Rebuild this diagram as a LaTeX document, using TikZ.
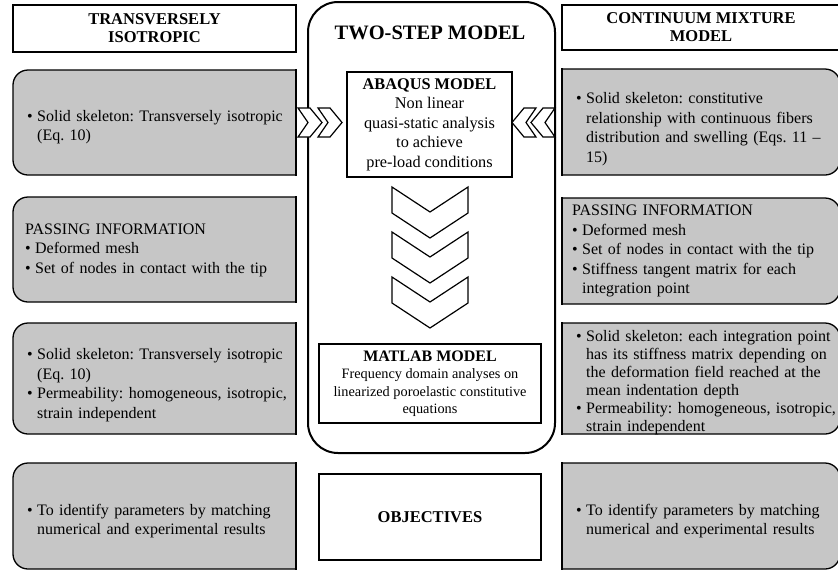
\documentclass[tikz,border=0pt]{standalone}
\usepackage{fontspec}
\setmainfont{Liberation Serif}
\usetikzlibrary{positioning}
\definecolor{boxgrey}{RGB}{198,198,198}
\tikzset{
  greybox/.style={draw=black, fill=boxgrey, line width=1.3pt},
  headbox/.style={draw=black, line width=2pt, align=center, inner sep=0pt,
    font=\bfseries\fontsize{16.5}{18}\selectfont},
  listtext/.style={text width=#1, align=left, inner sep=0pt, anchor=west,
    font=\fontsize{16}{19.5}\selectfont},
  chev/.style={draw=black, fill=white, line width=1.2pt, line join=miter},
}
\frenchspacing
\newcommand{\bitem}{\par\hangindent=10pt\hangafter=1\noindent\makebox[10pt][l]{\textbullet}}
% left box: rounded on the left side (top y, bottom y)
\newcommand{\leftbox}[2]{%
  \filldraw[greybox, rounded corners=15pt] (296,#1) -- (13,#1) -- (13,#2) -- (296,#2);
  \draw[greybox, line cap=rect] (296,#1) -- (296,#2);}
% right box: rounded on the right side (top y, bottom y)
\newcommand{\rightbox}[2]{%
  \filldraw[greybox, rounded corners=15pt] (562,#1) -- (840,#1) -- (840,#2) -- (562,#2);
  \draw[greybox, line cap=rect] (562,#1) -- (562,#2);}
\begin{document}
\begin{tikzpicture}[x=1pt,y=-1pt]
    \useasboundingbox (0,0) rectangle (838,571);

    % headers
    \node[headbox, minimum width=283, minimum height=47] (tihead) at (154.5,28.5) {TRANSVERSELY\\ISOTROPIC};
    \node[headbox, minimum width=278, minimum height=45] (cmhead) at (701,27.5) {CONTINUUM MIXTURE\\MODEL};

    % left column
    \leftbox{70}{175}
    \node[listtext=268] (tiskel) at (27,123) {\bitem Solid skeleton: Transversely isotropic\newline(Eq. 10)\par};
    \leftbox{197}{302}
    \node[listtext=268] (tipass) at (25,250) {\noindent PASSING INFORMATION
      \bitem Deformed mesh
      \bitem Set of nodes in contact with the tip\par};
    \leftbox{323}{434}
    \node[listtext=268] (tiperm) at (27,381) {\bitem Solid skeleton: Transversely isotropic\newline(Eq. 10)
      \bitem Permeability: homogeneous, isotropic,\newline strain independent\par};
    \leftbox{463}{569}
    \node[listtext=268] (tiobj) at (27,517) {\bitem To identify parameters by matching\newline numerical and experimental results\par};

    % right column
    \rightbox{69}{175}
    \node[listtext=262] (cmskel) at (576,125) {\bitem Solid skeleton: constitutive\newline relationship with continuous fibers\newline distribution and swelling (Eqs. 11 --\newline 15)\par};
    \rightbox{198}{304}
    \node[listtext=262] (cmpass) at (572,251) {\noindent PASSING INFORMATION
      \bitem Deformed mesh
      \bitem Set of nodes in contact with the tip
      \bitem Stiffness tangent matrix for each\newline integration point\par};
    \rightbox{323}{434}
    \node[listtext=262, font=\fontsize{16}{18}\selectfont] (cmperm) at (576,379) {\bitem Solid skeleton: each integration point\newline has its stiffness matrix depending on\newline the deformation field reached at the\newline mean indentation depth
      \bitem Permeability: homogeneous, isotropic,\newline strain independent\par};
    \rightbox{463}{569}
    \node[listtext=262] (cmobj) at (576,517) {\bitem To identify parameters by matching\newline numerical and experimental results\par};

    % two-step model
    \node[draw, line width=2pt, rounded corners=30pt, minimum width=247, minimum height=451] (twostep) at (431.5,227.5) {};
    \node[font=\bfseries\fontsize{20.5}{22}\selectfont] (twotitle) at (430,33) {TWO-STEP MODEL};

    \node[headbox, font=\fontsize{16.3}{19.5}\selectfont, minimum width=165, minimum height=105] (abaqus) at (429.5,124.5)
      {\textbf{ABAQUS MODEL}\\Non linear\\quasi-static analysis\\to achieve\\pre-load conditions};

    \node[headbox, font=\fontsize{14.3}{17.5}\selectfont, minimum width=222, minimum height=79] (matlab) at (430,383.5)
      {{\bfseries\fontsize{16}{17}\selectfont MATLAB MODEL}\\Frequency domain analyses on\\linearized poroelastic constitutive\\equations};

    \node[headbox, minimum width=222, minimum height=86] (objectives) at (430,517) {OBJECTIVES};

    % chevrons into the abaqus model
    \foreach \b in {298,318}
      \draw[chev] (\b,108) -- (\b+12,108) -- (\b+24,122.5) -- (\b+12,137) -- (\b,137) -- (\b+10,122.5) -- cycle;
    \foreach \t in {512,531}
      \draw[chev] (\t,122.5) -- (\t+12,108) -- (\t+24,108) -- (\t+14,122.5) -- (\t+24,137) -- (\t+12,137) -- cycle;

    % chevrons down to the matlab model
    \foreach \t in {187,232,277}
      \draw[chev] (392,\t) -- (430,\t+25) -- (468,\t) -- (468,\t+26) -- (430,\t+51) -- (392,\t+26) -- cycle;
\end{tikzpicture}
\end{document}
